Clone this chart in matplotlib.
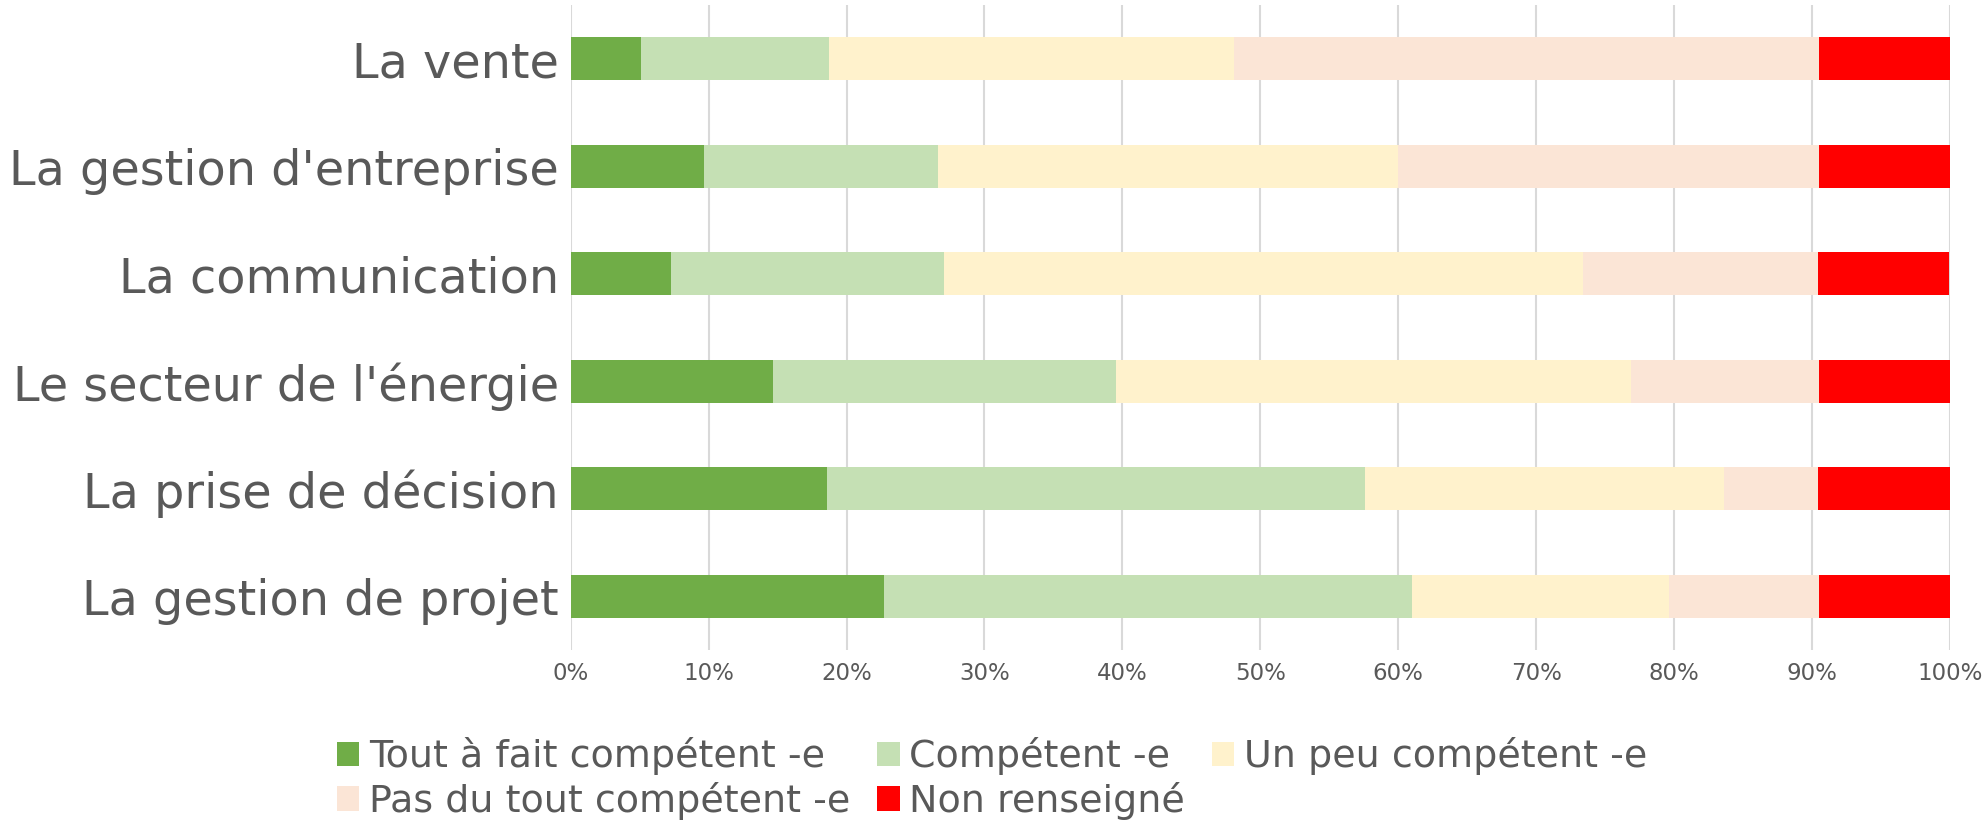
import matplotlib
matplotlib.use("Agg")
import matplotlib.pyplot as plt
import numpy as np

# categories, top to bottom
categories = ["La vente", "La gestion d'entreprise", "La communication",
              "Le secteur de l'énergie", "La prise de décision", "La gestion de projet"]
series_names = ["Tout à fait compétent -e", "Compétent -e", "Un peu compétent -e",
                "Pas du tout compétent -e", "Non renseigné"]
# shares in %
tout_a_fait = [5.1, 9.7, 7.3, 14.7, 18.6, 22.7]
competent = [13.6, 16.9, 19.8, 24.8, 39.0, 38.3]
un_peu = [29.4, 33.4, 46.3, 37.4, 26.0, 18.6]
pas_du_tout = [42.4, 30.5, 17.0, 13.6, 6.8, 10.9]
non_renseigne = [9.5, 9.5, 9.5, 9.5, 9.6, 9.5]
xticks = np.arange(0, 101, 10)

colors = ["#70AD47", "#C5E0B4", "#FFF2CC", "#FBE5D6", "#FF0000"]
grey = "#595959"

fig = plt.figure(figsize=(19.84, 8.22), dpi=100)
ax = fig.add_axes([570.7 / 1984, 1 - 650 / 822, (1950 - 570.7) / 1984, 645 / 822])

y = np.arange(len(categories))
left = np.zeros(len(categories))
handles = []
for vals, name, c in zip([tout_a_fait, competent, un_peu, pas_du_tout, non_renseigne],
                         series_names, colors):
    vals = np.array(vals)
    b = ax.barh(y, vals, left=left, height=0.4, color=c, label=name, zorder=3)
    handles.append(b)
    left = left + vals

ax.set_xlim(0, 100)
ax.set_ylim(len(categories) - 0.5, -0.5)
ax.set_xticks(xticks)
ax.set_xticklabels([f"{v}%" for v in xticks])
ax.set_yticks(y)
ax.set_yticklabels(categories)
ax.tick_params(axis="x", length=0, labelsize=16.5, labelcolor=grey, pad=8.5)
ax.tick_params(axis="y", length=0, labelsize=34.4, labelcolor=grey, pad=8.6)
ax.grid(axis="x", color="#D9D9D9", linewidth=1.5, zorder=0)
for s in ax.spines.values():
    s.set_visible(False)

# legend: 3 items on first row, 2 on second
order = [0, 3, 1, 4, 2]
leg = fig.legend([handles[i] for i in order], [series_names[i] for i in order],
                 loc="upper left", bbox_to_anchor=(336.6 / 1984, 1 - 737 / 822),
                 ncol=3, frameon=False, fontsize=27.4, labelcolor=grey,
                 handlelength=0.6, handleheight=0.6, handletextpad=0.25,
                 columnspacing=0.7, labelspacing=0.18, borderpad=0, borderaxespad=0)

fig.savefig("out.png", dpi=100)
